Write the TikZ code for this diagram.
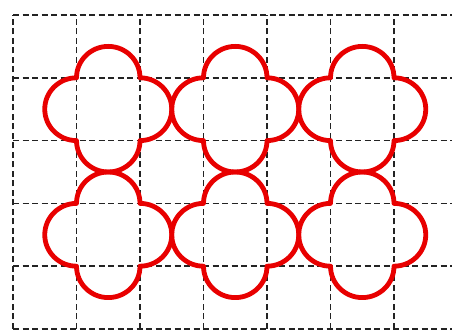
\documentclass[tikz,border=0pt]{standalone}
\definecolor{clover}{RGB}{232,0,0}
\definecolor{gridc}{RGB}{35,35,35}
\tikzset{
  gridline/.style={draw=gridc, line width=1.5pt, dash pattern=on 6pt off 3.5pt},
  cloverline/.style={draw=clover, line width=4.8pt, line join=round}
}
\begin{document}
\begin{tikzpicture}[x=1pt,y=1pt]
\useasboundingbox[fill=white] (0,0) rectangle (452,331);
\def\cx{63.5}
\def\cy{62.8}
% horizontal grid lines
\foreach \j in {0,...,5}{
  \draw[gridline] (13,{2+\j*\cy}) -- (452,{2+\j*\cy});
}
% vertical grid lines
\foreach \i in {0,...,6}{
  \draw[gridline] ({13+\i*\cx},2) -- ({13+\i*\cx},316);
}
% clovers
\foreach \i in {1,3,5}{
  \foreach \j in {1,3}{
    \draw[cloverline] ({13+\i*\cx},{2+(\j+1)*\cy})
      arc[start angle=180,end angle=0,x radius=\cx/2,y radius=\cy/2]
      arc[start angle=90,end angle=-90,x radius=\cx/2,y radius=\cy/2]
      arc[start angle=0,end angle=-180,x radius=\cx/2,y radius=\cy/2]
      arc[start angle=-90,end angle=-270,x radius=\cx/2,y radius=\cy/2]
      -- cycle;
  }
}
\end{tikzpicture}
\end{document}
